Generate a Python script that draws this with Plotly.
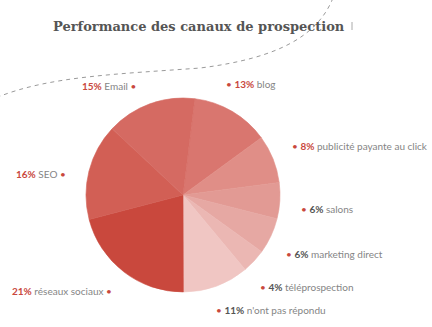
import plotly.graph_objects as go

W, H = 432, 327

# Data (clockwise from 12 o'clock)
categories = ["blog", "publicité payante au click", "salons", "marketing direct",
              "téléprospection", "n'ont pas répondu", "réseaux sociaux", "SEO", "Email"]
values = [13, 8, 6, 6, 4, 11, 21, 16, 15]
colors = ["#d9766f", "#e08e87", "#e29a94", "#e6a8a3", "#ebb7b3", "#f0c6c3",
          "#c9483d", "#d25f55", "#d56a62"]
pct_colors = ["#c9483d", "#c9483d", "#555555", "#555555", "#555555", "#555555",
              "#c9483d", "#c9483d", "#c9483d"]
title_text = "Performance des canaux de prospection"

# label placement (pixel anchor, side)
label_pos = {
    "blog": (225, 84, "left"),
    "publicité payante au click": (291, 146, "left"),
    "salons": (300, 209, "left"),
    "marketing direct": (285, 254, "left"),
    "téléprospection": (259, 287, "left"),
    "n'ont pas répondu": (215, 310, "left"),
    "réseaux sociaux": (113, 291, "right"),
    "SEO": (67, 174, "right"),
    "Email": (137, 86, "right"),
}

def px(x):
    return x / W

def py(y):
    return 1 - y / H

cx, cy, r = 183, 195, 97

fig = go.Figure(go.Pie(
    labels=categories, values=values, sort=False, direction="clockwise",
    rotation=7, marker=dict(colors=colors, line=dict(width=0.6, color=colors)),
    textinfo="none", hoverinfo="label+percent", showlegend=False,
    domain=dict(x=[px(cx - r), px(cx + r)], y=[py(cy + r), py(cy - r)]),
))

annotations = []
bullet = "<span style='color:#c9483d'>•</span>"
for cat, val, pc in zip(categories, values, pct_colors):
    x, y, side = label_pos[cat]
    pct = f"<b><span style='color:{pc}'>{val}%</span></b>"
    if side == "left":
        text = f"{bullet} {pct} {cat}"
        xa = "left"
    else:
        text = f"{pct} {cat} {bullet}"
        xa = "right"
    annotations.append(dict(
        x=px(x), y=py(y), xref="paper", yref="paper", text=text, showarrow=False,
        xanchor=xa, yanchor="middle", borderpad=0,
        font=dict(family="Lato", size=10, color="#858585"),
    ))

annotations.append(dict(
    x=px(52), y=py(26), xref="paper", yref="paper", text=f"<b>{title_text}</b>",
    showarrow=False, xanchor="left", yanchor="middle", borderpad=0,
    font=dict(family="DejaVu Serif", size=13, color="#555555"),
))

def pt(x, y):
    return f"{px(x):.4f},{py(y):.4f}"

curve = ("M " + pt(333, -2) + " C " + pt(318, 35) + " " + pt(280, 58) + " " + pt(200, 68)
         + " C " + pt(120, 74) + " " + pt(50, 76) + " " + pt(-2, 97))

shapes = [
    dict(type="path", xref="paper", yref="paper", path=curve,
         line=dict(color="#9a9a9a", width=1, dash="4px,4px")),
    dict(type="line", xref="paper", yref="paper", x0=px(352), x1=px(352), y0=py(22), y1=py(30),
         line=dict(color="#aaaaaa", width=1)),
]

fig.update_layout(
    width=W, height=H, autosize=False,
    margin=dict(l=0, r=0, t=0, b=0),
    paper_bgcolor="white", plot_bgcolor="white",
    annotations=annotations, shapes=shapes,
)

fig.write_html("out.html")
